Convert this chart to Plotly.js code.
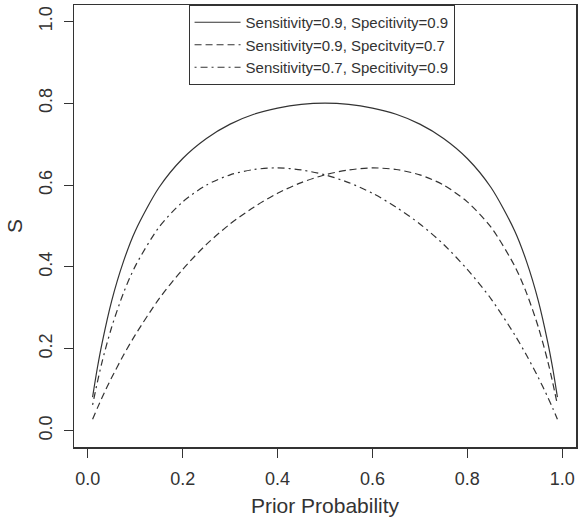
<!DOCTYPE html>
<html>
<head>
<meta charset="utf-8">
<script src="https://cdn.plot.ly/plotly-3.0.1.min.js"></script>
<style>html,body{margin:0;padding:0;background:#fff;}#chart{width:578px;height:521px;}</style>
</head>
<body>
<div id="chart"></div>
<script>
var prior = [0.01,0.02,0.03,0.05,0.075,0.1,0.15,0.2,0.25,0.3,0.35,0.4,0.45,0.5,0.55,0.6,0.65,0.7,0.75,0.8,0.85,0.9,0.925,0.95,0.97,0.98,0.99];
var sSe9Sp9 = [0.082,0.153,0.214,0.316,0.413,0.488,0.594,0.665,0.714,0.749,0.773,0.788,0.797,0.800,0.797,0.788,0.773,0.749,0.714,0.665,0.594,0.488,0.413,0.316,0.214,0.153,0.082];
var sSe9Sp7 = [0.028,0.055,0.081,0.129,0.184,0.234,0.322,0.394,0.455,0.505,0.546,0.580,0.606,0.625,0.637,0.642,0.638,0.625,0.600,0.559,0.497,0.402,0.336,0.252,0.168,0.118,0.063];
var sSe7Sp9 = [0.063,0.118,0.168,0.252,0.336,0.402,0.497,0.559,0.600,0.625,0.638,0.642,0.637,0.625,0.606,0.580,0.546,0.505,0.455,0.394,0.322,0.234,0.184,0.129,0.081,0.055,0.028];
var seriesNames = ["Sensitivity=0.9, Specitivity=0.9","Sensitivity=0.9, Specitvity=0.7","Sensitivity=0.7, Specitivity=0.9"];
var xTicks = [0,0.2,0.4,0.6,0.8,1.0];
var xTickText = ["0.0","0.2","0.4","0.6","0.8","1.0"];
var yTicks = [0,0.2,0.4,0.6,0.8,1.0];
var yTickText = ["0.0","0.2","0.4","0.6","0.8","1.0"];

var ink = "#333333";
var dashes = ["solid","7px,4px","2px,4px,7px,4px"];
var ys = [sSe9Sp9, sSe9Sp7, sSe7Sp9];
var traces = ys.map(function(y, i){
  return {x: prior, y: y, type: "scatter", mode: "lines", name: seriesNames[i],
    line: {color: ink, width: 1.2, dash: dashes[i], shape: "spline", smoothing: 0.8}};
});

var layout = {
  width: 578, height: 521,
  margin: {l: 74, r: 2, t: 5, b: 74},
  paper_bgcolor: "#fff", plot_bgcolor: "#fff",
  font: {family: "Liberation Sans, Arial, sans-serif", color: ink, size: 18},
  showlegend: true,
  legend: {x: 0.2282, y: 1, xanchor: "left", yanchor: "top",
    bordercolor: ink, borderwidth: 1, bgcolor: "#fff", itemwidth: 46,
    font: {size: 15, color: ink}},
  xaxis: {range: [-0.0292, 1.0292], tickvals: xTicks, ticktext: xTickText,
    ticks: "outside", ticklen: 9, tickwidth: 1, tickcolor: ink,
    showline: true, mirror: true, linecolor: ink, linewidth: 1.5,
    showgrid: false, zeroline: false, tickfont: {size: 18}, ticklabelstandoff: 6,
    title: {text: "Prior Probability", font: {size: 21}, standoff: 10}},
  yaxis: {range: [-0.04, 1.04], tickvals: yTicks, ticktext: yTickText,
    ticks: "outside", ticklen: 9, tickwidth: 1, tickcolor: ink, tickangle: -90,
    showline: true, mirror: true, linecolor: ink, linewidth: 1.5,
    showgrid: false, zeroline: false, tickfont: {size: 18}, ticklabelstandoff: 4,
    title: {text: "S", font: {size: 21}, standoff: 8}}
};
Plotly.newPlot("chart", traces, layout, {displayModeBar: false, staticPlot: true});
</script>
</body>
</html>
